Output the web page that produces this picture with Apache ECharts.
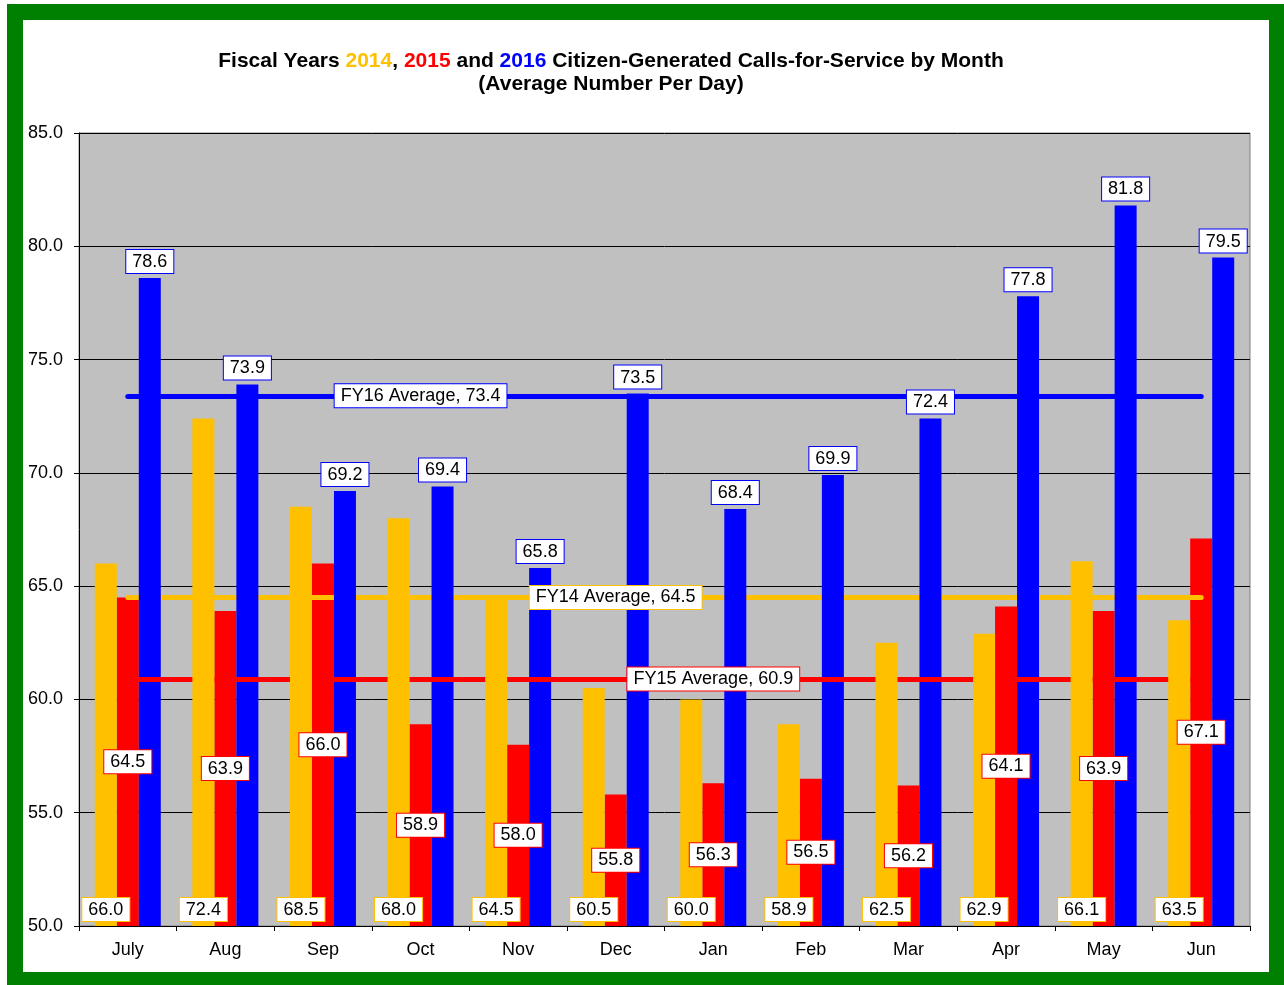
<!DOCTYPE html>
<html>
<head>
<meta charset="utf-8">
<script src="https://cdn.jsdelivr.net/npm/echarts@6/dist/echarts.min.js"></script>
<style>
  html, body { margin: 0; padding: 0; background: #fff; }
  #chart { width: 1284px; height: 985px; }
</style>
</head>
<body>
<div id="chart"></div>
<script>
  // data
  const months = ['July', 'Aug', 'Sep', 'Oct', 'Nov', 'Dec', 'Jan', 'Feb', 'Mar', 'Apr', 'May', 'Jun'];
  const fy14 = [66.0, 72.4, 68.5, 68.0, 64.5, 60.5, 60.0, 58.9, 62.5, 62.9, 66.1, 63.5];
  const fy15 = [64.5, 63.9, 66.0, 58.9, 58.0, 55.8, 56.3, 56.5, 56.2, 64.1, 63.9, 67.1];
  const fy16 = [78.6, 73.9, 69.2, 69.4, 65.8, 73.5, 68.4, 69.9, 72.4, 77.8, 81.8, 79.5];
  const averages = { fy14: 64.5, fy15: 60.9, fy16: 73.4 };
  const avgLabelAt = { fy14: 'Dec', fy15: 'Jan', fy16: 'Oct' };

  const ORANGE = '#FFC000';
  const RED = '#FF0000';
  const BLUE = '#0000FF';
  const FONT = 'Liberation Sans, Arial, sans-serif';

  const chart = echarts.init(document.getElementById('chart'));

  function boxLabel(color, position, distance) {
    return {
      show: true,
      position: position,
      distance: distance,
      formatter: p => p.value.toFixed(1),
      color: '#000',
      fontFamily: FONT,
      fontSize: 18,
      backgroundColor: '#fff',
      borderColor: color,
      borderWidth: 1,
      padding: [3, 6, 2, 6]
    };
  }

  // average line + its boxed label, hung on an empty line series so the
  // coords land on the category centres and not on a bar's offset
  function avgSeries(key, color, name, z) {
    const v = averages[key];
    return {
      type: 'line',
      data: [],
      z: z,
      silent: true,
      markLine: {
        z: z,
        silent: true,
        symbol: 'none',
        label: { show: false },
        lineStyle: { color: color, width: 5, type: 'solid', cap: 'round' },
        data: [[{ coord: [months[0], v] }, { coord: [months[months.length - 1], v] }]]
      },
      markPoint: {
        z: 10,
        silent: true,
        symbol: 'rect',
        symbolSize: 0,
        label: {
          show: true,
          position: 'inside',
          formatter: name + ' Average, ' + v.toFixed(1),
          color: '#000',
          fontFamily: FONT,
          fontSize: 18,
          backgroundColor: '#fff',
          borderColor: color,
          borderWidth: 1,
          padding: [3, 6, 2, 6]
        },
        data: [{ coord: [avgLabelAt[key], v] }]
      }
    };
  }

  const barBase = { type: 'bar', barWidth: 22, barGap: 0 };

  const option = {
    animation: false,
    graphic: [
      {
        type: 'rect',
        z: 0,
        shape: { x: 15, y: 12, width: 1262, height: 968 },
        style: { fill: 'none', stroke: '#008000', lineWidth: 16 }
      },
      {
        type: 'text',
        x: 611, y: 61,
        style: {
          text: '{b|Fiscal Years }{o|2014}{b|, }{r|2015}{b| and }{u|2016}{b| Citizen-Generated Calls-for-Service by Month}',
          align: 'center',
          verticalAlign: 'middle',
          rich: {
            b: { fontFamily: FONT, fontWeight: 'bold', fontSize: 21, fill: '#000' },
            o: { fontFamily: FONT, fontWeight: 'bold', fontSize: 21, fill: ORANGE },
            r: { fontFamily: FONT, fontWeight: 'bold', fontSize: 21, fill: RED },
            u: { fontFamily: FONT, fontWeight: 'bold', fontSize: 21, fill: BLUE }
          }
        }
      },
      {
        type: 'text',
        x: 611, y: 84,
        style: {
          text: '(Average Number Per Day)',
          align: 'center',
          verticalAlign: 'middle',
          fontFamily: FONT, fontWeight: 'bold', fontSize: 21, fill: '#000'
        }
      }
    ],
    grid: {
      left: 79, right: 34, top: 133, bottom: 59,
      show: true,
      backgroundColor: '#C0C0C0',
      borderColor: '#808080',
      borderWidth: 1
    },
    xAxis: [
      {
        type: 'category',
        data: months,
        axisLine: { lineStyle: { color: '#000', width: 1 } },
        axisTick: { show: true, length: 5, lineStyle: { color: '#000' } },
        axisLabel: { color: '#000', fontFamily: FONT, fontSize: 18, margin: 15 }
      },
      // hidden twin axis that carries the value labels above all bars
      { type: 'category', data: months, show: false }
    ],
    yAxis: {
      type: 'value',
      min: 50, max: 85, interval: 5,
      axisLine: { show: true, lineStyle: { color: '#000' } },
      axisTick: { show: true, length: 5, lineStyle: { color: '#000' } },
      axisLabel: {
        color: '#000', fontFamily: FONT, fontSize: 18, margin: 16,
        formatter: v => v.toFixed(1)
      },
      splitLine: { lineStyle: { color: '#000', width: 1 } }
    },
    series: [
      Object.assign({}, barBase, { name: 'FY14', data: fy14, z: 5, itemStyle: { color: ORANGE } }),
      Object.assign({}, barBase, { name: 'FY15', data: fy15, z: 1, itemStyle: { color: RED } }),
      Object.assign({}, barBase, { name: 'FY16', data: fy16, z: 3, itemStyle: { color: BLUE } }),
      avgSeries('fy14', ORANGE, 'FY14', 2),
      avgSeries('fy15', RED, 'FY15', 4),
      avgSeries('fy16', BLUE, 'FY16', 4),
      // label layer
      Object.assign({}, barBase, {
        xAxisIndex: 1, data: fy14, z: 8, silent: true,
        itemStyle: { color: 'transparent' },
        label: boxLabel(ORANGE, 'insideBottom', 5)
      }),
      Object.assign({}, barBase, {
        xAxisIndex: 1, data: fy15, z: 8, silent: true,
        itemStyle: { color: 'transparent' },
        label: boxLabel(RED, 'inside', 0)
      }),
      Object.assign({}, barBase, {
        xAxisIndex: 1, data: fy16, z: 8, silent: true,
        itemStyle: { color: 'transparent' },
        label: boxLabel(BLUE, 'top', 5)
      })
    ]
  };

  chart.setOption(option);
</script>
</body>
</html>
